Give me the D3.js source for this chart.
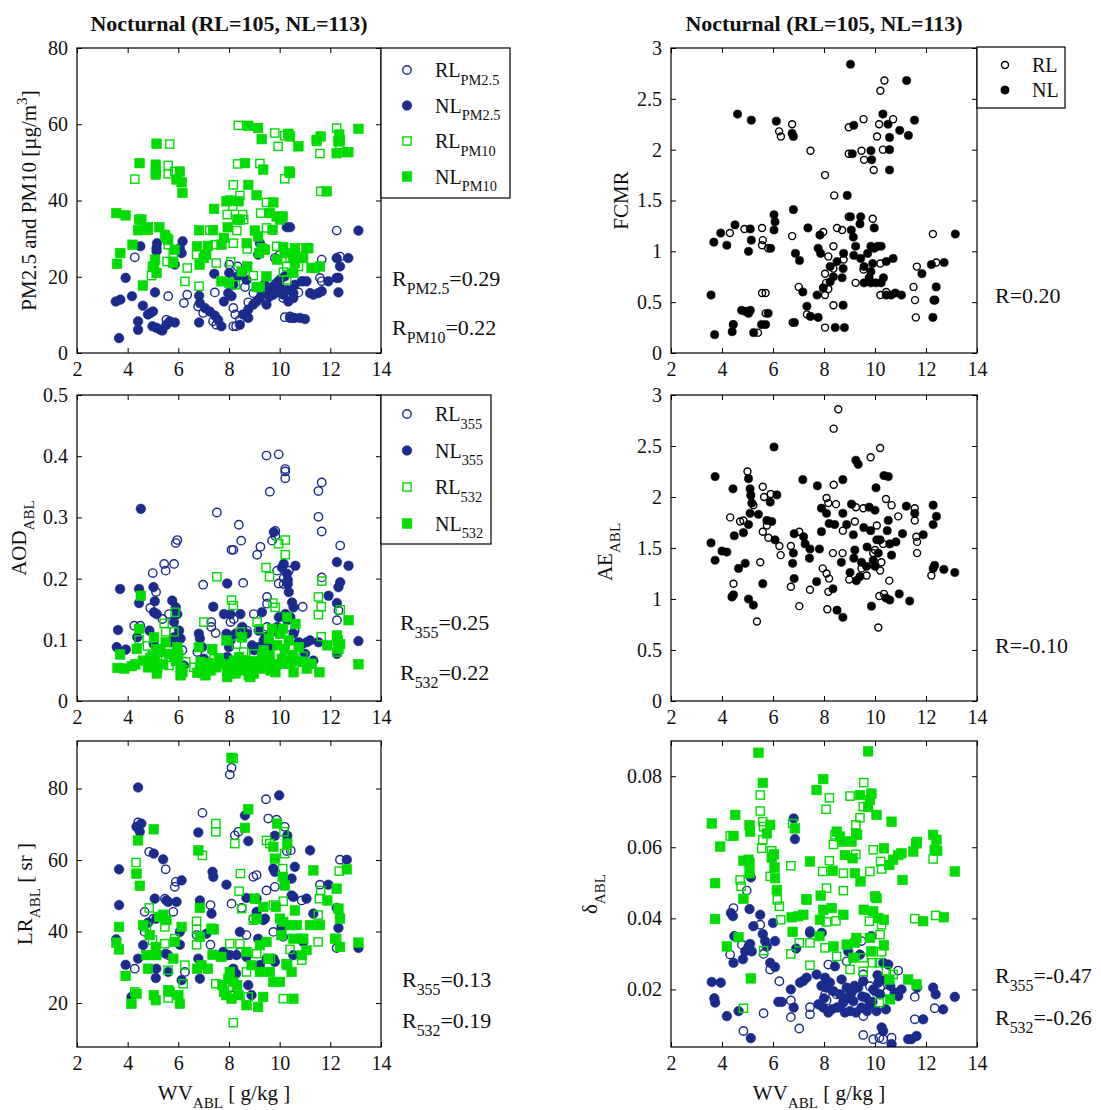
<!DOCTYPE html>
<html>
<head>
<meta charset="utf-8">
<script src="https://cdn.jsdelivr.net/npm/d3@7"></script>
<style>
  body { margin: 0; background: #fff; }
  text { font-family: "Liberation Serif", "DejaVu Serif", serif; fill: #111; }
</style>
</head>
<body>
<script>
// x = WV_ABL [g/kg], y = panel variable
const xTicks = [2, 4, 6, 8, 10, 12, 14];

const pmRL25 = [[4.28,25.1],[5.6,14.9],[5.53,8.7],[6.22,13.1],[6.35,15.3],[6.78,12.2],[6.98,10.5],[7.44,15.9],[7.5,7.4],[8.01,23.2],[8.17,11.8],[8.25,10.1],[8.17,7],[8.28,7],[8.34,22.7],[8.63,17.3],[8.76,13.3],[9.81,24.9],[10,25.8],[10.14,14.4],[10.2,9.4],[10.41,9.6],[10.6,9.2],[10.74,15.9],[10.93,18.8],[11.59,19.7],[11.66,18.8],[11.66,24.5],[12.25,32.1],[12.38,25.3],[9.48,14],[8.96,15.7],[8.43,8.7],[7.37,8.3]];
const pmNL25 = [[3.66,3.9],[3.53,13.5],[3.71,14],[3.92,19.7],[4.17,14.9],[4.41,8.3],[4.41,6.1],[4.5,28],[4.6,12.4],[4.8,10.1],[4.9,10.5],[5,10.9],[4.98,7],[5.14,6.6],[5.3,6.1],[5.37,5.9],[5.08,15.9],[5.14,27.5],[5.16,28.8],[5.14,26.7],[5.53,7.4],[5.66,8.3],[5.86,8],[6.06,27.5],[6.13,26.2],[6.17,29.3],[5.86,23.2],[6.82,15],[6.85,13.1],[6.82,8],[7.05,11.8],[7.24,10.9],[7.44,9.8],[7.57,8.7],[7.7,7],[7.42,20.8],[7.8,13.5],[7.97,15.7],[8.1,14.9],[8.17,17.9],[8.01,21],[8.34,20.1],[8.53,21.2],[8.69,19.2],[8.43,7.4],[8.56,10.1],[8.76,11.4],[8.76,9.2],[8.96,12.7],[9.09,13.5],[9.22,14.4],[9.35,15.7],[9.48,12.7],[9.22,28.8],[9.15,25.8],[9.61,16.6],[9.75,17.5],[9.88,18.4],[10.01,19.2],[10.07,16.6],[10.14,15.3],[10.2,20.1],[9.75,15.3],[10.28,33],[10.41,33],[10.34,13.5],[10.54,15.7],[10.6,17.9],[10.54,14.4],[10.41,9.2],[10.54,9.2],[10.8,9.2],[11,8.9],[10.87,18.8],[11.06,18.8],[11.2,15.7],[11.33,15.3],[11.52,15.7],[11.66,16.2],[11.92,18.8],[12.25,19.7],[12.32,19.7],[12.25,24.9],[12.38,22.7],[12.32,15.9],[12.71,24.9],[13.11,32.1],[9.9,16],[10,17.5],[9.6,14.8],[10.3,16.5],[9.4,18]];
const pmRL10 = [[4.28,45.6],[5.66,54.8],[5.6,49.2],[5.6,47],[5.86,47.6],[5.56,24],[5.8,26.2],[5.6,28.4],[4.94,20.3],[4.98,22.7],[6.26,18.8],[6.35,22.3],[6.72,25.8],[6.82,17.5],[7.24,32.2],[7.44,28.4],[7.5,23.6],[7.93,36.3],[8.15,38.5],[8.17,44.1],[8.34,49.6],[8.37,59.7],[8.43,41.3],[8.54,36.3],[8.31,32.1],[8.17,28.8],[8.07,23.9],[8.25,17.9],[8.58,35],[8.72,27.3],[8.96,20.3],[9.22,49.7],[9.25,36.7],[9.48,39.5],[9.48,32.8],[9.81,57.7],[9.94,54.2],[9.88,28],[10.07,35.8],[10.2,57],[10.2,45.7],[10.15,21.2],[10.28,22.7],[10.41,24.9],[10.28,19.2],[10.74,22.7],[10.87,27.5],[11.59,52.3],[11.62,42.4],[11.46,55.5],[12.25,59],[12.38,54.6]];
const pmNL10 = [[3.55,36.7],[3.92,36.1],[3.58,23.4],[3.71,26.2],[4.19,28.4],[4.45,35],[4.54,35],[4.41,32.2],[4.8,32.3],[4.8,33],[4.47,49.8],[4.6,17.7],[5.14,54.9],[5.11,49.4],[5.11,47.6],[5.11,46.8],[5.25,33],[5.08,24.5],[5.04,22.7],[5.14,21],[5.47,31],[5.53,30.2],[5.6,29.7],[5.8,23.6],[5.86,27.1],[6.06,47.6],[5.93,45.5],[6.13,44.8],[6.16,42],[6.82,32.2],[6.74,28],[6.84,23.2],[7,24.9],[7.1,25.8],[7.37,32.2],[7.41,37.8],[7.17,28.1],[7.7,28.4],[7.8,30.2],[7.9,39.8],[8.03,40],[7.95,33],[8.01,18.4],[7.7,18.8],[8.38,39.8],[8.33,35],[8.43,35],[8.76,59.6],[8.76,44.1],[8.63,49.8],[8.7,28.8],[8.72,22.7],[8.5,21.4],[9.09,41.4],[9.15,59],[9.29,56.1],[9.35,48.1],[9.02,32.1],[9.15,30.6],[9.19,26.2],[9.29,27.5],[9.09,17.3],[9.22,17.3],[9.42,27.1],[9.48,20.1],[9.75,39.5],[9.61,36.7],[9.72,32.3],[9.88,35.8],[10.01,35],[10.12,35.8],[9.9,24.5],[10.14,27.8],[10.2,26.2],[10.34,57.5],[10.41,56.8],[10.38,47.6],[10.41,47.2],[10.74,54.2],[10.54,24.9],[10.6,27.5],[10.54,21],[10.6,23.6],[10.93,24.9],[11.06,27.5],[11.13,27.5],[11.26,22.3],[11.39,22.3],[11.59,22.7],[11.46,55.9],[11.62,56.8],[11.86,42.4],[12.25,52.4],[12.32,55.5],[12.38,55.9],[12.65,52.7],[12.71,52.7],[13.11,58.8],[12.35,57.3]];

const fcmrRL = [[10.37,2.68],[10.21,2.58],[9.55,2.3],[8.97,2.22],[10.71,2.3],[10.16,2.25],[10.08,2.13],[6.75,2.25],[6.24,2.18],[6.31,2.13],[7.47,1.99],[9.47,1.99],[8.97,1.96],[9.57,1.9],[9.95,1.8],[10.31,2],[8.04,1.75],[8.4,1.55],[8.97,1.34],[9.91,1.32],[4.31,1.18],[4.88,1.22],[5.57,1.23],[5.6,1.11],[5.57,1.06],[5.81,1.03],[6.75,1.15],[7.97,1.19],[8.51,1.23],[8.71,1.21],[8.37,1.05],[8.17,0.95],[8.77,0.92],[8.37,0.83],[8.04,0.78],[8.08,0.69],[8.17,0.63],[8.04,0.57],[7.01,0.65],[9.55,0.82],[9.24,0.69],[10.21,0.88],[10.21,0.57],[10.44,0.6],[11.51,0.65],[11.64,0.85],[11.57,0.52],[11.6,0.35],[12.27,1.17],[12.4,0.89],[8.37,0.47],[8.04,0.25],[5.41,0.2],[5.57,0.59],[5.71,0.59],[5.71,0.39],[6.77,0.3],[7.33,0.38],[4.44,0.28]];
const fcmrNL = [[9.04,2.84],[11.24,2.68],[4.61,2.35],[5.15,2.29],[6.13,2.28],[6.75,2.16],[6.8,2.13],[9.17,2.24],[10.31,2.35],[10.51,2.25],[10.97,2.19],[11.31,2.14],[11.55,2.29],[10.57,2.12],[9.11,1.96],[9.84,1.99],[9.87,1.9],[10.57,2],[10.57,1.8],[8.91,1.55],[6.8,1.41],[6.04,1.36],[6.08,1.29],[6.04,1.21],[4.51,1.26],[3.95,1.18],[3.68,1.09],[4.19,1.06],[5.11,1.22],[5.15,1.11],[5.04,1],[5.91,1.03],[7.37,1.23],[7.84,1.16],[7.77,1.03],[7.87,0.98],[6.88,0.98],[7.04,0.91],[9.07,1.21],[9.15,1.14],[9.04,1.34],[9.44,1.34],[9.41,1.27],[9.97,1.23],[9.24,1.05],[9.17,0.96],[8.77,0.98],[8.51,0.9],[8.24,0.85],[8.37,0.75],[8.71,0.74],[8.75,0.83],[8.24,0.7],[7.97,0.64],[7.73,0.57],[9.44,0.93],[9.57,0.85],[9.71,0.98],[9.84,1.05],[9.97,1.03],[10.11,1.05],[10.24,1.05],[9.91,0.88],[9.84,0.8],[9.77,0.74],[9.57,0.69],[9.84,0.69],[10.04,0.69],[10.24,0.69],[10.44,0.9],[10.71,0.93],[10.33,0.74],[10.44,0.57],[10.64,0.57],[10.8,0.59],[11.04,0.57],[11.84,0.78],[12.21,0.87],[12.71,0.89],[13.15,1.17],[12.4,0.65],[12.31,0.52],[12.35,0.52],[12.27,0.35],[3.57,0.57],[3.71,0.18],[4.44,0.28],[4.4,0.21],[4.77,0.42],[4.91,0.41],[5.04,0.39],[5.11,0.42],[5.24,0.2],[5.55,0.28],[5.71,0.28],[5.81,0.39],[6.84,0.3],[7.33,0.46],[7.47,0.36],[7.77,0.35],[8.44,0.25],[8.8,0.25],[8.75,0.47],[7.17,0.6]];

const aodRL355 = [[4.99,0.209],[5.44,0.224],[5.5,0.213],[5.83,0.224],[5.9,0.258],[5.96,0.263],[5.12,0.178],[4.89,0.152],[4.26,0.123],[4.5,0.123],[5.37,0.134],[5.63,0.142],[6.16,0.083],[6.75,0.08],[6.98,0.19],[7.52,0.308],[7.3,0.129],[7.3,0.121],[7.47,0.111],[8.39,0.288],[8.48,0.262],[8.56,0.193],[8.1,0.247],[8.17,0.247],[8.06,0.129],[8.19,0.134],[9.11,0.239],[9.24,0.252],[8.98,0.142],[8.71,0.115],[9.48,0.401],[9.61,0.342],[9.96,0.403],[10.22,0.379],[10.22,0.375],[10.22,0.364],[9.7,0.262],[9.83,0.278],[9.83,0.27],[9.9,0.213],[9.96,0.192],[10.16,0.201],[10.16,0.191],[10.36,0.213],[9.5,0.17],[9.5,0.159],[10.91,0.154],[10.59,0.115],[11.53,0.343],[11.66,0.357],[11.53,0.301],[11.66,0.277],[11.66,0.202],[12.39,0.254],[12.26,0.132],[12.32,0.148],[9.5,0.121],[10.42,0.121]];
const aodNL355 = [[4.52,0.314],[3.7,0.183],[3.62,0.116],[3.57,0.088],[3.93,0.084],[4.45,0.183],[4.45,0.16],[5.02,0.186],[5.07,0.163],[5.04,0.145],[5.15,0.142],[4.86,0.115],[5.03,0.093],[4.38,0.104],[5.76,0.164],[5.9,0.153],[5.96,0.142],[5.83,0.129],[6.03,0.115],[6.09,0.102],[5.83,0.104],[5.7,0.096],[6.81,0.11],[6.85,0.102],[6.94,0.088],[7.01,0.069],[7.38,0.154],[7.93,0.192],[7.8,0.142],[8.06,0.142],[7.9,0.11],[8.06,0.099],[8,0.088],[8.26,0.11],[8.45,0.142],[8.52,0.121],[8.71,0.11],[8.91,0.091],[8.98,0.083],[9.17,0.088],[9.17,0.115],[9.3,0.145],[9.37,0.099],[9.44,0.104],[9.5,0.104],[9.57,0.088],[9.77,0.276],[9.9,0.121],[9.97,0.137],[9.97,0.11],[10.09,0.218],[10.16,0.224],[10.29,0.208],[10.32,0.198],[10.32,0.191],[10.36,0.178],[10.23,0.142],[10.29,0.132],[10.49,0.161],[10.55,0.153],[10.42,0.137],[10.62,0.221],[10.55,0.11],[10.75,0.096],[10.88,0.093],[11.07,0.096],[11.2,0.099],[11,0.077],[11.33,0.066],[11.53,0.096],[11.93,0.172],[12.26,0.227],[12.32,0.186],[12.39,0.194],[12.26,0.16],[12.72,0.221],[13.11,0.098],[12.26,0.077],[6.22,0.058],[7.93,0.072]];
const aodRL532 = [[5.87,0.145],[5.44,0.127],[5.5,0.113],[5.83,0.113],[4.45,0.1],[4.78,0.09],[5.63,0.058],[6.29,0.064],[7.52,0.203],[7.01,0.129],[8.1,0.165],[8.17,0.156],[8.45,0.113],[8.29,0.093],[8.58,0.08],[9.11,0.129],[9.2,0.118],[9.46,0.218],[9.6,0.203],[9.73,0.16],[9.82,0.153],[9.96,0.257],[10.22,0.263],[10.22,0.239],[11.66,0.196],[11.53,0.17],[11.64,0.154],[11.53,0.141],[11.64,0.105],[12.39,0.149],[12.26,0.08],[10.92,0.073],[10.52,0.088],[8.98,0.077],[7.41,0.069],[6.62,0.055],[5.17,0.066],[10.14,0.066],[10.53,0.069]];
const aodNL532 = [[3.6,0.054],[3.7,0.076],[3.87,0.053],[4.17,0.057],[4.36,0.085],[4.45,0.118],[4.52,0.172],[4.6,0.066],[4.8,0.055],[4.98,0.074],[5.04,0.104],[5.07,0.064],[5.15,0.045],[5.17,0.054],[5.17,0.085],[5.5,0.096],[5.63,0.077],[5.83,0.074],[5.96,0.088],[6.09,0.055],[6.09,0.042],[6.16,0.047],[6.75,0.046],[6.81,0.088],[6.88,0.064],[7.07,0.042],[7.27,0.05],[7.34,0.085],[7.5,0.055],[7.67,0.061],[7.9,0.099],[7.93,0.05],[8.06,0.055],[8.19,0.066],[8.26,0.045],[8.39,0.058],[8.52,0.104],[8.65,0.066],[8.78,0.042],[8.84,0.055],[8.98,0.045],[9.11,0.061],[9.24,0.053],[9.37,0.083],[9.5,0.066],[9.57,0.102],[9.7,0.118],[9.77,0.055],[9.83,0.047],[9.9,0.091],[10.03,0.11],[10.09,0.069],[10.13,0.118],[10.29,0.137],[10.36,0.099],[10.42,0.061],[10.55,0.047],[10.62,0.126],[10.75,0.088],[10.88,0.064],[11.07,0.053],[11.26,0.061],[11.57,0.047],[11.88,0.091],[12.26,0.107],[12.29,0.099],[12.39,0.093],[12.32,0.085],[12.72,0.132],[13.11,0.06],[7.07,0.055],[7.93,0.039],[8.84,0.039],[9.64,0.05],[10.29,0.061],[4.3,0.06],[4.9,0.07],[5.3,0.08],[5.4,0.06],[5.9,0.065],[6,0.075],[6.85,0.055],[7.2,0.062],[7.6,0.07],[8.1,0.06],[8.4,0.072],[8.6,0.05],[9,0.065],[9.3,0.07],[9.6,0.075],[9.9,0.06],[10.2,0.085],[10.5,0.075],[10.7,0.065],[11.1,0.06]];

const aeRL = [[4.32,1.8],[4.45,1.15],[4.71,1.76],[4.84,1.77],[5,2.25],[5.13,2.01],[5.23,1.92],[5.37,0.78],[5.5,1.36],[5.6,1.66],[5.6,2.1],[5.65,2],[5.76,1.72],[5.91,2.03],[5.82,1.6],[6.25,1.52],[6.3,1.43],[6.7,1.52],[6.7,1.12],[7.03,1.66],[7.03,0.93],[7.45,1.09],[7.95,1.3],[8.1,1.99],[8.17,1.94],[8.47,1.93],[8.1,1.25],[8.2,1.2],[8.17,1.07],[8.13,0.9],[8.35,1.45],[8.38,2.12],[8.38,2.67],[8.56,2.86],[8.73,1.45],[8.74,1.67],[8.99,1.19],[9.21,1.76],[9.25,1.9],[9.54,1.89],[9.47,1.3],[9.67,1.23],[9.83,2.39],[9.93,1.45],[10,1.48],[10.07,1.72],[10.2,2.48],[10.2,1.28],[10.17,1.03],[10.13,0.72],[10.25,1.36],[10.32,1.54],[10.35,1.05],[10.43,1.98],[10.65,1.92],[10.56,1.18],[10.91,1.81],[11.56,1.89],[11.56,1.77],[11.62,1.61],[11.65,1.56],[11.65,1.45],[12.21,1.23]];
const aeNL = [[3.57,1.55],[3.73,2.2],[3.73,1.38],[4,1.47],[4.19,1.46],[4.43,2.08],[4.48,1.62],[4.39,1.02],[4.45,1.04],[4.65,1.3],[4.84,1.65],[4.91,1.35],[5.04,2.18],[5.1,2.08],[5.13,2.02],[5.17,1.94],[5.1,1.84],[5.04,1.73],[5.04,1],[5.23,0.94],[5.43,1.83],[5.6,1.15],[5.76,1.77],[5.89,1.95],[5.95,1.76],[6.04,2.49],[6.15,2.02],[6.08,1.58],[6.83,1.64],[6.8,1.45],[6.77,1.35],[6.83,1.2],[7.17,2.17],[7.2,1.61],[7.26,1.54],[7.43,1.4],[7.45,1.49],[7.74,2.11],[7.71,1.17],[7.82,1.49],[7.9,1.89],[7.9,1.66],[8.1,1.84],[8.2,1.74],[8.35,1.1],[8.42,1.73],[8.51,0.89],[8.74,2.17],[8.74,1.84],[8.74,0.82],[8.68,1.36],[8.89,1.73],[9.02,1.26],[9.08,1.93],[9.15,1.63],[9.21,1.48],[9.17,1.4],[9.25,2.36],[9.34,2.32],[9.27,1.18],[9.41,1.22],[9.47,1.36],[9.56,1.7],[9.67,1.32],[9.69,1.51],[9.77,1.9],[9.83,1.67],[9.86,0.93],[9.93,1.38],[10,1.87],[10.04,2.09],[10.07,1.58],[10.13,1.45],[10,1.32],[10.2,1.58],[10.35,2.21],[10.52,2.2],[10.52,1.77],[10.48,1.67],[10.58,1.54],[10.65,1.43],[10.43,1.01],[10.58,0.99],[10.82,1.56],[10.95,1.05],[11.08,1.64],[11.23,1.91],[11.36,0.98],[11.56,1.84],[11.89,1.63],[12.28,1.92],[12.28,1.73],[12.34,1.33],[12.28,1.3],[12.41,1.81],[12.7,1.29],[13.13,1.26]];

const lrRL355 = [[4.41,70.5],[4.28,29.6],[4.67,39.9],[4.67,45.5],[4.85,62.3],[5.01,43.6],[5.47,49.2],[5.5,57.4],[5.8,45.5],[5.86,52.5],[5.9,53.9],[5.6,33.4],[6.26,28.7],[6.95,73.2],[7.27,47.4],[7.27,36.3],[6.72,39],[8.03,83.9],[8.1,85.8],[8.1,47.8],[8.23,66.9],[8.37,67.9],[8.5,46.6],[8.69,39],[8.96,55.3],[9.09,55.8],[8.96,43.6],[9.46,77],[9.48,51.5],[9.55,71.6],[9.81,52.5],[9.88,71.3],[10.2,69.3],[10.28,62.5],[10.44,62.7],[10.14,38.5],[10.87,48.7],[11.59,53.1],[12.38,60.1],[12.25,35.4],[8.06,33.4],[8.17,22.2],[8.43,34.3],[9.75,39.9]];
const lrNL355 = [[4.41,80.3],[3.55,37.8],[3.66,57.4],[3.66,47.4],[3.92,30.7],[4.15,21.7],[4.35,69.3],[4.48,67.9],[4.54,70.2],[4.41,32.4],[4.61,36.2],[4.81,42.5],[5.03,61.8],[5.07,49.2],[5.13,43.6],[5.13,29.6],[5.11,27],[5.4,60.2],[5.53,48.7],[5.6,48.3],[5.93,48.3],[6.06,39.9],[6.13,54.3],[6.06,36.3],[5.5,33.8],[5.6,28.7],[6.13,26.4],[6.79,67.7],[6.85,48.7],[6.79,32.4],[6.85,26.8],[7.11,39.4],[7.31,45],[7.35,56.7],[7.38,55.3],[7.9,53.1],[7.77,34.3],[7.97,33.4],[8.17,29.6],[8.28,28.2],[8.3,33.4],[8.43,39.9],[8.63,72.5],[8.76,65.3],[8.69,49.4],[8.76,25],[8.69,32.9],[8.89,22.2],[9.09,49.2],[9.09,45.5],[9.15,38],[9.35,43.2],[9.42,43.6],[9.22,30.6],[9.48,32.4],[9.75,32.4],[9.81,31.5],[9.75,57.6],[9.81,56.7],[9.81,66.8],[9.98,78.1],[10.07,41.3],[10.3,66.8],[10.47,54.8],[10.47,50.1],[10.6,58.1],[10.54,33.4],[10.54,49.7],[10.8,38],[10.93,37.1],[11.06,49.2],[11.2,62.7],[11.33,45],[11.92,53.1],[12.25,46.6],[12.32,41],[12.65,60.1],[13.11,35.4],[12.38,44.1]];
const lrRL532 = [[4.33,59.3],[4.28,23.1],[4.85,46.6],[4.74,41.3],[4.98,37.6],[5.47,36.6],[5.47,41.3],[5.6,29.2],[5.6,21.4],[5.86,38],[6.26,30.6],[6.19,25.4],[6.72,42.9],[6.72,40.6],[6.72,36.3],[6.95,61.3],[7.48,70.2],[7.48,67.9],[7.48,25.4],[8.17,88.4],[8.17,14.5],[8.23,64.6],[8.03,36.6],[8.43,36.6],[8.4,51.3],[8.45,56.2],[8.5,46.4],[8.69,28.7],[8.76,21.7],[8.96,43.2],[9.09,33.8],[9.48,65.5],[9.61,64.6],[9.64,32.4],[9.75,47.4],[10.17,67.9],[10.2,61.8],[10.12,57.6],[10.14,48.5],[10.14,21.2],[10.25,31],[10.41,35],[10.87,32],[11.52,44.6],[11.52,37.1],[11.57,49.2],[11.62,51.5],[12.35,56.9],[12.25,38]];
const lrNL532 = [[3.55,36.9],[3.66,35],[3.66,41.3],[3.92,27.6],[4.15,19.8],[4.35,22.6],[4.35,56.2],[4.41,65.5],[4.48,52.8],[4.61,41.8],[4.74,33.4],[4.8,29.6],[4.87,39],[5.03,68.6],[5.03,22.2],[5.11,20.8],[5.13,33.4],[5.11,35.7],[5.24,44.1],[5.4,44.7],[5.53,43.2],[5.6,23.6],[5.66,23.1],[5.8,32.4],[5.86,37.1],[6,22.2],[6.06,19.8],[6.13,41.3],[6.79,62.7],[6.85,46.6],[6.85,38.5],[6.74,29.6],[6.91,30.6],[7.17,29.6],[7.31,40.8],[7.4,40.6],[7.35,33.5],[7.7,32.9],[7.74,25],[7.8,23.1],[7.9,22.2],[7.97,26.8],[8.03,28.7],[8.1,21.2],[8.17,25.9],[8.1,88.6],[8.32,25],[8.37,22.2],[8.63,69],[8.76,74.2],[8.69,34.3],[8.69,19.4],[8.89,30.6],[9.15,18.9],[9.02,49.2],[9.09,43.6],[9.22,36.2],[9.22,28.7],[9.35,46.9],[9.35,21.7],[9.48,37.1],[9.55,32.4],[9.61,28.7],[9.75,25.9],[9.75,63.7],[9.81,60.4],[9.85,46.9],[9.9,70.2],[10.01,25.9],[10.01,43.6],[10.07,39],[10.12,55.3],[10.14,42.7],[10.2,52.9],[10.3,64.6],[10.3,30.6],[10.41,41.8],[10.47,28.7],[10.54,21.2],[10.54,38],[10.6,45.9],[10.68,41.8],[10.87,33.4],[10.93,38],[11.06,34.8],[11.2,41.8],[11.33,57.1],[11.59,41.8],[11.88,48.7],[12.18,38],[12.25,52],[12.32,46.4],[12.38,43.6],[12.38,35.7],[12.65,57.4],[13.11,36.9]];

const depRL355 = [[4.45,0.0429],[4.32,0.0298],[4.78,0.0326],[4.84,0.0083],[4.97,0.0478],[5.5,0.0382],[5.63,0.03],[5.63,0.0133],[5.89,0.0256],[6.25,0.0223],[6.7,0.0169],[6.7,0.0122],[7.03,0.009],[7.45,0.015],[7.45,0.013],[7.45,0.0364],[8.04,0.0185],[8.1,0.0169],[8.17,0.027],[8.5,0.0186],[8.76,0.0167],[8.89,0.0279],[9.02,0.0195],[9.15,0.02],[9.47,0.0336],[9.54,0.0125],[9.54,0.0072],[9.54,0.0242],[9.8,0.0209],[9.93,0.006],[10.17,0.0064],[10.32,0.006],[10.65,0.0064],[10.45,0.0191],[10.91,0.0253],[11.56,0.0179],[11.56,0.0116],[12.34,0.0147],[10.2,0.0205]];
const depNL355 = [[3.6,0.0221],[3.95,0.0219],[3.7,0.0175],[3.73,0.0163],[4.19,0.0125],[4.35,0.0415],[4.43,0.0406],[4.48,0.035],[4.45,0.0275],[4.65,0.0139],[4.82,0.0285],[4.91,0.0307],[5.04,0.0321],[5.1,0.0328],[5.17,0.0307],[5.08,0.0426],[5.13,0.0515],[5.13,0.0063],[5.23,0.0378],[5.5,0.041],[5.6,0.0356],[5.69,0.0336],[5.76,0.0321],[5.89,0.0275],[6.08,0.0263],[6,0.0387],[6.08,0.0336],[6.21,0.0165],[6.34,0.0165],[6.7,0.02],[6.81,0.0149],[6.81,0.0681],[6.86,0.0623],[6.91,0.0315],[7.06,0.0219],[7.19,0.0224],[7.32,0.0233],[7.45,0.0359],[7.71,0.0242],[7.78,0.0158],[7.91,0.0359],[7.97,0.0149],[8.04,0.0233],[8.1,0.0205],[8.17,0.0135],[8.23,0.0219],[8.3,0.0144],[8.37,0.0195],[8.43,0.0265],[8.5,0.0149],[8.63,0.0186],[8.69,0.0228],[8.76,0.0163],[8.82,0.0135],[8.89,0.0205],[8.95,0.0307],[9.02,0.0139],[9.08,0.0191],[9.15,0.0167],[9.25,0.0135],[9.34,0.0205],[9.41,0.0298],[9.47,0.0149],[9.54,0.0223],[9.64,0.0177],[9.69,0.0139],[9.8,0.0158],[9.86,0.035],[9.93,0.02],[10,0.0195],[10.06,0.0139],[10.13,0.0219],[10.2,0.0186],[10.26,0.0093],[10.32,0.0083],[10.39,0.0228],[10.43,0.0144],[10.52,0.027],[10.65,0.0046],[10.78,0.0191],[10.91,0.0181],[11.04,0.02],[11.3,0.006],[11.43,0.006],[11.63,0.0069],[11.65,0.0205],[11.89,0.0116],[12.28,0.0205],[12.38,0.0186],[12.67,0.0144],[13.13,0.0179],[10.32,0.0275],[8.6,0.015],[8.9,0.0175],[9.2,0.021],[9.5,0.018],[9.9,0.0165],[10.1,0.024],[10.6,0.021],[8,0.0175],[7.9,0.021]];
const depRL532 = [[4.84,0.0147],[4.32,0.0632],[4.71,0.0508],[4.75,0.049],[5.5,0.0747],[5.5,0.0702],[5.6,0.0672],[5.6,0.0621],[5.56,0.0597],[5.63,0.0658],[5.63,0.0309],[5.89,0.0518],[5.95,0.059],[6.17,0.0452],[6.25,0.0434],[6.3,0.0396],[6.7,0.0548],[6.77,0.0667],[6.7,0.03],[7.03,0.0331],[7.45,0.0331],[7.45,0.0268],[7.3,0.0455],[7.95,0.0532],[8.08,0.0707],[8.21,0.0739],[8.21,0.0562],[8.1,0.0485],[8.1,0.039],[8.04,0.0317],[8.37,0.0608],[8.43,0.0635],[8.47,0.0393],[8.5,0.0293],[8.76,0.0527],[8.76,0.0478],[9.02,0.0744],[9.02,0.0256],[9.25,0.0663],[9.25,0.0639],[9.25,0.058],[9.41,0.0683],[9.54,0.0714],[9.56,0.0782],[9.54,0.0289],[9.54,0.0251],[9.8,0.0532],[9.93,0.0593],[9.78,0.0392],[9.9,0.0275],[10.17,0.0275],[10.17,0.0163],[10.2,0.0354],[10.26,0.0382],[10.22,0.056],[10.26,0.0539],[10.26,0.0306],[10.45,0.0251],[10.71,0.0242],[11.56,0.0399],[11.6,0.0611],[11.65,0.0616],[12.28,0.0567],[12.38,0.0408]];
const depNL532 = [[3.6,0.0667],[3.73,0.0499],[3.73,0.0398],[3.93,0.0602],[4.19,0.0321],[4.52,0.0691],[4.45,0.0632],[4.65,0.0347],[4.84,0.0455],[4.84,0.0562],[5.08,0.0662],[5.1,0.0644],[5.08,0.0555],[5.08,0.0527],[5.04,0.0565],[5.13,0.0231],[5.43,0.0866],[5.6,0.0781],[5.76,0.0639],[5.89,0.0663],[5.95,0.0571],[6.04,0.058],[6.08,0.0513],[6.15,0.048],[6.06,0.0543],[6.77,0.0362],[6.73,0.0403],[6.86,0.0653],[6.99,0.0406],[7.19,0.041],[7.32,0.0452],[7.45,0.056],[7.71,0.0761],[7.82,0.035],[7.84,0.0396],[7.87,0.0464],[7.97,0.0792],[7.97,0.0424],[8.3,0.0429],[8.34,0.0534],[8.37,0.0321],[8.5,0.0644],[8.63,0.063],[8.76,0.0616],[8.76,0.041],[8.82,0.0578],[8.89,0.0326],[9.08,0.0616],[9.12,0.0569],[9.15,0.0289],[9.21,0.0331],[9.21,0.0527],[9.27,0.0345],[9.3,0.0635],[9.41,0.0747],[9.43,0.0504],[9.56,0.0424],[9.73,0.087],[9.73,0.0714],[9.8,0.0733],[9.86,0.0751],[9.8,0.0345],[9.86,0.0307],[9.93,0.042],[10,0.0462],[10.06,0.0457],[10.06,0.0691],[10.13,0.0401],[10.35,0.0396],[10.35,0.0597],[10.35,0.0324],[10.56,0.055],[10.65,0.0672],[10.71,0.0565],[10.91,0.0578],[11.04,0.0583],[11.08,0.0508],[10.56,0.0228],[10.59,0.0172],[11.3,0.0228],[11.63,0.0214],[11.89,0.0392],[12.28,0.0635],[12.34,0.0593],[12.41,0.0621],[12.44,0.059],[12.7,0.0403],[13.13,0.0532],[11.5,0.0588],[11.63,0.0611]];

const titleText = "Nocturnal (RL=105, NL=113)";

const navy = "#1b2b8c";
const green = "#00dc00";
const svg = d3.select("body").append("svg").attr("width", 1101).attr("height", 1110);
svg.append("rect").attr("width", 1101).attr("height", 1110).attr("fill", "#fff");

// text with sub/superscripts: parts = [[str, "sub"|"sup"|null], ...]
function rich(parent, x, y, parts, size, anchor) {
  const t = parent.append("text").attr("x", x).attr("y", y)
    .attr("font-size", size).attr("text-anchor", anchor || "start");
  let shift = 0;
  parts.forEach(([str, kind]) => {
    const target = kind === "sub" ? size * 0.38 : kind === "sup" ? -size * 0.42 : 0;
    t.append("tspan").attr("dy", target - shift)
      .attr("font-size", kind ? size * 0.72 : size).text(str);
    shift = target;
  });
  return t;
}

function drawMarker(g, kind, color, cx, cy, r) {
  const filled = kind.startsWith("f");
  if (kind.endsWith("circle")) {
    g.append("circle").attr("cx", cx).attr("cy", cy)
      .attr("r", filled ? r : r - 0.6)
      .attr("fill", filled ? color : "none")
      .attr("stroke", color).attr("stroke-width", filled ? 0.6 : 1.4);
  } else {
    const s = filled ? r * 2 : r * 2 - 1.4;
    g.append("rect").attr("x", cx - s / 2).attr("y", cy - s / 2)
      .attr("width", s).attr("height", s)
      .attr("fill", filled ? color : "none")
      .attr("stroke", color).attr("stroke-width", filled ? 0.6 : 1.4);
  }
}

const fmt = d => String(+d.toFixed(3));
let clipId = 0;

function drawPanel(p) {
  const g = svg.append("g").attr("transform", `translate(${p.left},${p.top})`);
  const x = d3.scaleLinear().domain([2, 14]).range([0, p.w]);
  const y = d3.scaleLinear().domain(p.yDomain).range([p.h, 0]);

  const axes = [
    g.append("g").attr("transform", `translate(0,${p.h})`)
      .call(d3.axisBottom(x).tickValues(xTicks).tickSize(-5).tickPadding(9).tickFormat(fmt)),
    g.append("g")
      .call(d3.axisTop(x).tickValues(xTicks).tickSize(-5).tickFormat("")),
    g.append("g")
      .call(d3.axisLeft(y).tickValues(p.yTicks).tickSize(-5).tickPadding(9).tickFormat(fmt)),
    g.append("g").attr("transform", `translate(${p.w},0)`)
      .call(d3.axisRight(y).tickValues(p.yTicks).tickSize(-5).tickFormat(""))
  ];
  axes.forEach(a => {
    a.attr("font-family", null).attr("font-size", 20);
    a.select(".domain").remove();
    a.selectAll(".tick line").attr("stroke", "#000");
  });

  const id = "clip" + (clipId++);
  g.append("clipPath").attr("id", id).append("rect").attr("width", p.w).attr("height", p.h);
  const plot = g.append("g").attr("clip-path", `url(#${id})`);
  p.series.forEach(s => {
    const sg = plot.append("g");
    s.data.forEach(d => drawMarker(sg, s.kind, s.color, x(d[0]), y(d[1]), s.r));
  });

  g.append("rect").attr("width", p.w).attr("height", p.h)
    .attr("fill", "none").attr("stroke", "#000").attr("stroke-width", 1.2);

  if (p.title) {
    g.append("text").attr("x", p.w / 2).attr("y", -17).attr("text-anchor", "middle")
      .attr("font-size", 20.5).attr("font-weight", "bold")
      .attr("textLength", 277).attr("lengthAdjust", "spacingAndGlyphs").text(p.title);
  }

  const yl = g.append("g").attr("transform", `translate(${p.ylab.x},${p.h / 2 + (p.ylab.dy || 0)}) rotate(-90)`);
  rich(yl, 0, 0, p.ylab.parts, 21, "middle");

  if (p.xlab) rich(g, p.w / 2 - 5, p.h + 53, p.xlab, 21, "middle");

  if (p.legend) {
    const L = p.legend;
    const lg = svg.append("g").attr("transform", `translate(${L.x},${L.y})`);
    lg.append("rect").attr("width", L.w).attr("height", L.h)
      .attr("fill", "#fff").attr("stroke", "#000").attr("stroke-width", 1.2);
    L.items.forEach((it, i) => {
      const cy = L.row0 + i * L.step;
      drawMarker(lg, it.kind, it.color, L.mx, cy, it.r);
      rich(lg, L.tx, cy + 7, it.label, 20, "start");
    });
  }

  (p.notes || []).forEach(n => rich(svg, n.x, n.y, n.parts, 22, "start"));
}

const rc = 4.8, rb = 4.1;

drawPanel({
  left: 77, top: 48, w: 304, h: 305, yDomain: [0, 80], yTicks: [0, 20, 40, 60, 80],
  title: titleText,
  ylab: { x: -41, parts: [["PM2.5 and PM10 [µg/m", null], ["3", "sup"], ["]", null]] },
  series: [
    { data: pmRL25, kind: "ocircle", color: navy, r: rc },
    { data: pmNL25, kind: "fcircle", color: navy, r: rc },
    { data: pmRL10, kind: "osquare", color: green, r: rc },
    { data: pmNL10, kind: "fsquare", color: green, r: rc }
  ],
  legend: { x: 381, y: 48, w: 129, h: 150, mx: 26, tx: 54, row0: 22, step: 35.5, items: [
    { kind: "ocircle", color: navy, r: rc, label: [["RL", null], ["PM2.5", "sub"]] },
    { kind: "fcircle", color: navy, r: rc, label: [["NL", null], ["PM2.5", "sub"]] },
    { kind: "osquare", color: green, r: rc, label: [["RL", null], ["PM10", "sub"]] },
    { kind: "fsquare", color: green, r: rc, label: [["NL", null], ["PM10", "sub"]] }
  ] },
  notes: [
    { x: 392, y: 286, parts: [["R", null], ["PM2.5", "sub"], ["=0.29", null]] },
    { x: 392, y: 335, parts: [["R", null], ["PM10", "sub"], ["=0.22", null]] }
  ]
});

drawPanel({
  left: 671, top: 48, w: 306, h: 305, yDomain: [0, 3], yTicks: [0, 0.5, 1, 1.5, 2, 2.5, 3],
  title: titleText,
  ylab: { x: -43, parts: [["FCMR", null]] },
  series: [
    { data: fcmrRL, kind: "ocircle", color: "#000", r: rb },
    { data: fcmrNL, kind: "fcircle", color: "#000", r: rb }
  ],
  legend: { x: 977, y: 47, w: 88, h: 61, mx: 28, tx: 55, row0: 18, step: 25, items: [
    { kind: "ocircle", color: "#000", r: rb, label: [["RL", null]] },
    { kind: "fcircle", color: "#000", r: rb, label: [["NL", null]] }
  ] },
  notes: [ { x: 995, y: 303, parts: [["R=0.20", null]] } ]
});

drawPanel({
  left: 77, top: 395, w: 304, h: 306, yDomain: [0, 0.5], yTicks: [0, 0.1, 0.2, 0.3, 0.4, 0.5],
  ylab: { x: -51, dy: -10, parts: [["AOD", null], ["ABL", "sub"]] },
  series: [
    { data: aodRL355, kind: "ocircle", color: navy, r: rc },
    { data: aodNL355, kind: "fcircle", color: navy, r: rc },
    { data: aodRL532, kind: "osquare", color: green, r: rc },
    { data: aodNL532, kind: "fsquare", color: green, r: rc }
  ],
  legend: { x: 381, y: 395, w: 110, h: 149, mx: 26, tx: 54, row0: 19, step: 36.5, items: [
    { kind: "ocircle", color: navy, r: rc, label: [["RL", null], ["355", "sub"]] },
    { kind: "fcircle", color: navy, r: rc, label: [["NL", null], ["355", "sub"]] },
    { kind: "osquare", color: green, r: rc, label: [["RL", null], ["532", "sub"]] },
    { kind: "fsquare", color: green, r: rc, label: [["NL", null], ["532", "sub"]] }
  ] },
  notes: [
    { x: 400, y: 630, parts: [["R", null], ["355", "sub"], ["=0.25", null]] },
    { x: 400, y: 680, parts: [["R", null], ["532", "sub"], ["=0.22", null]] }
  ]
});

drawPanel({
  left: 671, top: 395, w: 306, h: 306, yDomain: [0, 3], yTicks: [0, 0.5, 1, 1.5, 2, 2.5, 3],
  ylab: { x: -59, dy: 4, parts: [["AE", null], ["ABL", "sub"]] },
  series: [
    { data: aeRL, kind: "ocircle", color: "#000", r: rb },
    { data: aeNL, kind: "fcircle", color: "#000", r: rb }
  ],
  notes: [ { x: 995, y: 653, parts: [["R=-0.10", null]] } ]
});

drawPanel({
  left: 77, top: 741, w: 304, h: 306, yDomain: [7.7, 93.3], yTicks: [20, 40, 60, 80],
  ylab: { x: -45, parts: [["LR", null], ["ABL", "sub"], [" [ sr ]", null]] },
  xlab: [["WV", null], ["ABL", "sub"], [" [ g/kg ]", null]],
  series: [
    { data: lrRL355, kind: "ocircle", color: navy, r: rc },
    { data: lrNL355, kind: "fcircle", color: navy, r: rc },
    { data: lrRL532, kind: "osquare", color: green, r: rc },
    { data: lrNL532, kind: "fsquare", color: green, r: rc }
  ],
  notes: [
    { x: 402, y: 987, parts: [["R", null], ["355", "sub"], ["=0.13", null]] },
    { x: 402, y: 1028, parts: [["R", null], ["532", "sub"], ["=0.19", null]] }
  ]
});

drawPanel({
  left: 671, top: 741, w: 306, h: 306, yDomain: [0.0038, 0.0899], yTicks: [0.02, 0.04, 0.06, 0.08],
  ylab: { x: -74, parts: [["δ", null], ["ABL", "sub"]] },
  xlab: [["WV", null], ["ABL", "sub"], [" [ g/kg ]", null]],
  series: [
    { data: depRL355, kind: "ocircle", color: navy, r: rc },
    { data: depNL355, kind: "fcircle", color: navy, r: rc },
    { data: depRL532, kind: "osquare", color: green, r: rc },
    { data: depNL532, kind: "fsquare", color: green, r: rc }
  ],
  notes: [
    { x: 995, y: 983, parts: [["R", null], ["355", "sub"], ["=-0.47", null]] },
    { x: 995, y: 1025, parts: [["R", null], ["532", "sub"], ["=-0.26", null]] }
  ]
});
</script>
</body>
</html>
